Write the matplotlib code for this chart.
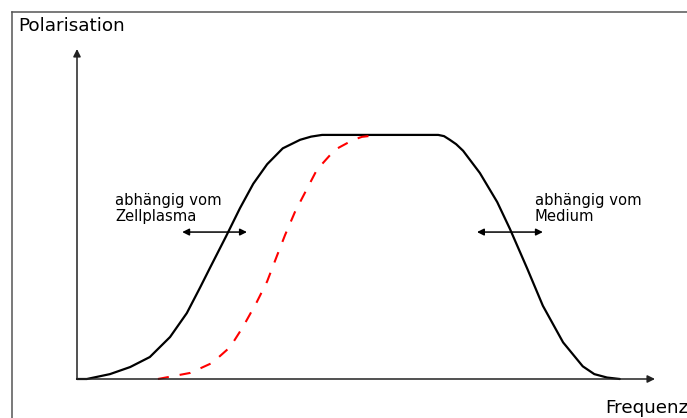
import matplotlib
matplotlib.use("Agg")
import matplotlib.pyplot as plt
from matplotlib.lines import Line2D

# frequency in relative units (0..100), polarisation relative to plateau (=1)
black_f = [0, 1.7, 5.7, 9.2, 12.6, 16.1, 19.0, 21.3, 23.0, 24.4, 25.8, 28.2,
           30.5, 32.9, 35.6, 38.6, 40.5, 42.4, 62.5, 63.5, 64.5, 65.6, 66.8,
           69.7, 72.7, 74.9, 77.9, 80.6, 84.1, 87.5, 89.5, 91.7, 93.9]
black_p = [0, 0, 0.020, 0.049, 0.090, 0.172, 0.270, 0.375, 0.455, 0.520,
           0.585, 0.700, 0.800, 0.880, 0.945, 0.980, 0.993, 1.0, 1.0, 0.995,
           0.980, 0.962, 0.935, 0.844, 0.725, 0.615, 0.452, 0.300, 0.150,
           0.052, 0.020, 0.006, 0]

red_f = [14.0, 19.6, 23.4, 26.5, 28.7, 31.1, 32.9, 34.6, 36.0, 37.7, 39.5,
         41.5, 44.6, 47.8, 49.3, 52.1]
red_p = [0, 0.025, 0.066, 0.131, 0.213, 0.315, 0.400, 0.505, 0.590, 0.684,
         0.766, 0.857, 0.939, 0.980, 0.992, 1.0]

# double arrows (frequency range, polarisation level)
left_arrow = (18.2, 29.4, 0.602)
right_arrow = (69.2, 80.6, 0.602)

fig = plt.figure(figsize=(6.87, 4.18), dpi=100)
ax = fig.add_axes([77 / 687, 39 / 418, 578 / 687, 330 / 418])
ax.set_xlim(0, 100)
ax.set_ylim(0, 1.352)
ax.axis("off")

# axis lines with arrow heads
axis_style = dict(arrowstyle="-|>", color="#222222", lw=1.1,
                  mutation_scale=11, shrinkA=0, shrinkB=0)
ax.annotate("", xy=(0, 1), xytext=(0, 0), xycoords="axes fraction",
            arrowprops=axis_style)
ax.annotate("", xy=(1, 0), xytext=(0, 0), xycoords="axes fraction",
            arrowprops=axis_style)

ax.plot(black_f, black_p, color="black", lw=1.6, solid_capstyle="round",
        solid_joinstyle="round", clip_on=False)
ax.plot(red_f, red_p, color="red", lw=1.5, linestyle=(0, (5.3, 5.3)),
        clip_on=False)

dbl = dict(arrowstyle="<|-|>", color="black", lw=1.1, mutation_scale=10,
           shrinkA=0, shrinkB=0)
for x0, x1, yy in (left_arrow, right_arrow):
    ax.annotate("", xy=(x1, yy), xytext=(x0, yy), arrowprops=dbl)

ax.text(6.6, 0.70, "abhängig vom\nZellplasma", fontsize=10.6,
        va="center", ha="left", linespacing=1.1)
ax.text(79.2, 0.70, "abhängig vom\nMedium", fontsize=10.6,
        va="center", ha="left", linespacing=1.1)

fig.text(18 / 687, 1 - 26 / 418, "Polarisation", fontsize=13.2, va="center")
fig.text(605 / 687, 1 - 408 / 418, "Frequenz", fontsize=13.2, va="center")

# outer frame (only left and top edges are visible)
bx, by = 12 / 687, 1 - 12 / 418
fig.add_artist(Line2D([bx, bx], [0, by], color="#555555", lw=1.1))
fig.add_artist(Line2D([bx, 1], [by, by], color="#555555", lw=1.1))

fig.savefig("out.png", dpi=100)
